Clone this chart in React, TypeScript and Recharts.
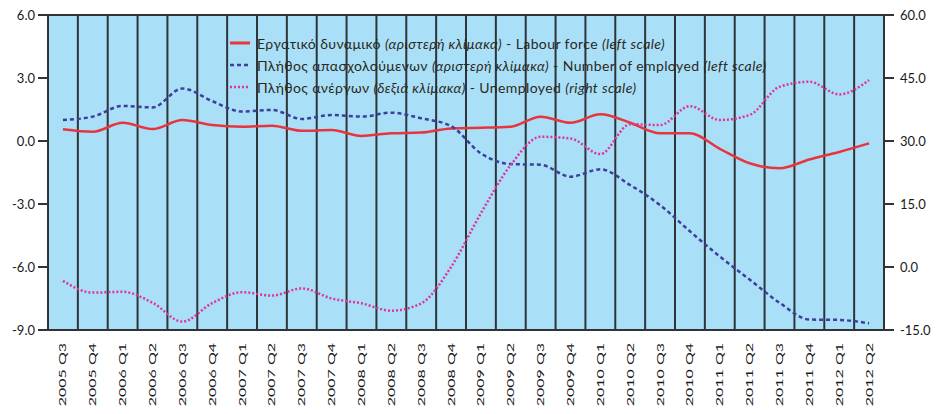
import { CartesianGrid, Legend, Line, LineChart, XAxis, YAxis } from "recharts";

const QUARTERS = [
  "2005 Q3", "2005 Q4",
  "2006 Q1", "2006 Q2", "2006 Q3", "2006 Q4",
  "2007 Q1", "2007 Q2", "2007 Q3", "2007 Q4",
  "2008 Q1", "2008 Q2", "2008 Q3", "2008 Q4",
  "2009 Q1", "2009 Q2", "2009 Q3", "2009 Q4",
  "2010 Q1", "2010 Q2", "2010 Q3", "2010 Q4",
  "2011 Q1", "2011 Q2", "2011 Q3", "2011 Q4",
  "2012 Q1", "2012 Q2",
];

// left scale
const LABOUR_FORCE = [
  0.56, 0.44, 0.87, 0.57, 1.0, 0.76, 0.68, 0.73, 0.49, 0.52, 0.24, 0.37, 0.4, 0.6,
  0.63, 0.68, 1.16, 0.87, 1.27, 0.87, 0.37, 0.37, -0.37, -1.06, -1.3, -0.88, -0.52, -0.11,
];
const EMPLOYED = [
  1.0, 1.16, 1.67, 1.6, 2.5, 1.9, 1.4, 1.48, 1.05, 1.24, 1.16, 1.35, 1.08, 0.71,
  -0.59, -1.1, -1.13, -1.7, -1.35, -2.1, -3.05, -4.3, -5.5, -6.6, -7.7, -8.5, -8.52, -8.68,
];
// right scale
const UNEMPLOYED = [
  -3.3, -6.1, -5.9, -8.5, -13.0, -8.6, -6.0, -6.8, -5.1, -7.5, -8.65, -10.4, -8.65, 0.0,
  12.8, 24.3, 31.0, 30.6, 26.9, 34.0, 33.8, 38.3, 35.0, 36.2, 42.9, 44.1, 41.1, 44.5,
];

const LEFT_TICKS = [-9, -6, -3, 0, 3, 6];
const RIGHT_TICKS = [-15, 0, 15, 30, 45, 60];

const LEGEND_LABELS = [
  ["Εργατικό δυναμικό ", "(αριστερή κλίμακα)", " - Labour force ", "(left scale)"],
  ["Πλήθος απασχολούμενων ", "(αριστερή κλίμακα)", " - Number of employed ", "(left scale)"],
  ["Πλήθος ανέργων ", "(δεξιά κλίμακα)", " - Unemployed ", "(right scale)"],
];

const data = QUARTERS.map((q, i) => ({
  quarter: q,
  labour: LABOUR_FORCE[i],
  employed: EMPLOYED[i],
  unemployed: UNEMPLOYED[i],
}));

const RED = "#e8343c";
const BLUE = "#3c3f9c";
const PINK = "#de34a0";
const GRID = "#2e3438";
const FONT = "Lato, 'Open Sans', sans-serif";

const lineStyles = [
  { color: RED, dash: undefined },
  { color: BLUE, dash: "4 3" },
  { color: PINK, dash: "2 2" },
];

function QuarterTick({ x, y, payload }: any) {
  return (
    <g transform={`translate(${x},${y})`}>
      <text
        transform="rotate(-90) scale(1.6,1)"
        textAnchor="end"
        dy={3.5}
        fill="#1a1a1a"
        fontSize={10}
        fontFamily={FONT}
      >
        {payload.value}
      </text>
    </g>
  );
}

function renderLegend() {
  return (
    <div style={{ fontFamily: FONT, fontSize: 14, letterSpacing: 0.4, color: "#2a2a22" }}>
      {LEGEND_LABELS.map((parts, i) => (
        <div key={i} style={{ display: "flex", alignItems: "center", height: 22, whiteSpace: "nowrap" }}>
          <svg width={20} height={6} style={{ marginRight: 7 }}>
            <line
              x1={0}
              y1={3}
              x2={20}
              y2={3}
              stroke={lineStyles[i].color}
              strokeWidth={i === 0 ? 3 : 2.5}
              strokeDasharray={lineStyles[i].dash}
            />
          </svg>
          <span>
            {parts[0]}
            <i>{parts[1]}</i>
            {parts[2]}
            <i>{parts[3]}</i>
          </span>
        </div>
      ))}
    </div>
  );
}

export default function App() {
  return (
    <div>
      <style>{"body{margin:0}"}</style>
      <LineChart width={936} height={414} data={data} margin={{ top: 15, right: 0, bottom: 0, left: 0 }}>
        <CartesianGrid
          fill="#aadff8"
          stroke={GRID}
          strokeWidth={2}
          verticalCoordinatesGenerator={({ offset }: any) =>
            QUARTERS.concat([""]).map((_, i) => offset.left + (i * offset.width) / QUARTERS.length)
          }
        />
        <XAxis
          dataKey="quarter"
          scale="band"
          height={84}
          interval={0}
          axisLine={false}
          tickLine={false}
          tickSize={0}
          tickMargin={13}
          tick={<QuarterTick />}
        />
        <YAxis
          yAxisId="left"
          width={48}
          domain={[-9, 6]}
          ticks={LEFT_TICKS}
          axisLine={false}
          tickSize={10}
          tickMargin={3}
          tickLine={{ stroke: GRID, strokeWidth: 2 }}
          tick={{ fill: "#1a1a1a", fontSize: 13, fontFamily: FONT }}
          tickFormatter={(v: number) => v.toFixed(1)}
        />
        <YAxis
          yAxisId="right"
          orientation="right"
          width={52}
          domain={[-15, 60]}
          ticks={RIGHT_TICKS}
          axisLine={false}
          tickSize={10}
          tickMargin={6}
          tickLine={{ stroke: GRID, strokeWidth: 2 }}
          tick={{ fill: "#1a1a1a", fontSize: 13, fontFamily: FONT }}
          tickFormatter={(v: number) => v.toFixed(1)}
        />
        <Legend
          layout="vertical"
          verticalAlign="middle"
          align="center"
          content={renderLegend}
          wrapperStyle={{ top: 32, left: 230, width: 600 }}
        />
        <Line
          yAxisId="left"
          type="monotone"
          dataKey="labour"
          stroke={RED}
          strokeWidth={2.5}
          dot={false}
          isAnimationActive={false}
        />
        <Line
          yAxisId="left"
          type="monotone"
          dataKey="employed"
          stroke={BLUE}
          strokeWidth={2.5}
          strokeDasharray="4 3"
          dot={false}
          isAnimationActive={false}
        />
        <Line
          yAxisId="right"
          type="monotone"
          dataKey="unemployed"
          stroke={PINK}
          strokeWidth={2.5}
          strokeDasharray="2 2"
          dot={false}
          isAnimationActive={false}
        />
      </LineChart>
    </div>
  );
}
